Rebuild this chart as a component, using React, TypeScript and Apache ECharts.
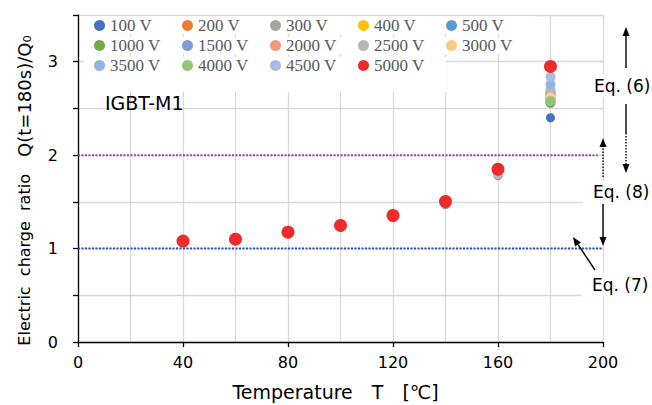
import React, { useEffect, useRef } from "react";
import * as echarts from "echarts";

// Temperatures at which Q(t=180s)/Q0 was measured
const temperatures = [40, 60, 80, 100, 120, 140, 160, 180];

// Applied voltages (legend entries)
const voltageLabels = [
  "100 V", "200 V", "300 V", "400 V", "500 V",
  "1000 V", "1500 V", "2000 V", "2500 V", "3000 V",
  "3500 V", "4000 V", "4500 V", "5000 V",
];

const voltageColors = [
  "#4472C4", "#ED7D31", "#A5A5A5", "#FFC000", "#5B9BD5",
  "#70AD47", "#7E9BD8", "#EE9A80", "#B7B7B7", "#FBCB84",
  "#8DB6E0", "#93C47D", "#A9BCE2", "#EE2A2A",
];

// Charge ratio per voltage, one value per temperature
const ratio100V = [1.07, 1.09, 1.16, 1.23, 1.33, 1.47, 1.78, 2.40];
const ratio200V = [1.08, 1.10, 1.17, 1.24, 1.34, 1.48, 1.80, 2.58];
const ratio300V = [1.07, 1.10, 1.17, 1.24, 1.34, 1.48, 1.80, 2.66];
const ratio400V = [1.08, 1.10, 1.17, 1.24, 1.34, 1.49, 1.81, 2.62];
const ratio500V = [1.08, 1.10, 1.17, 1.24, 1.35, 1.49, 1.81, 2.68];
const ratio1000V = [1.08, 1.10, 1.17, 1.25, 1.35, 1.49, 1.82, 2.56];
const ratio1500V = [1.08, 1.10, 1.17, 1.24, 1.35, 1.49, 1.82, 2.64];
const ratio2000V = [1.08, 1.10, 1.18, 1.25, 1.35, 1.49, 1.82, 2.60];
const ratio2500V = [1.08, 1.10, 1.17, 1.25, 1.35, 1.49, 1.79, 2.70];
const ratio3000V = [1.08, 1.10, 1.17, 1.25, 1.35, 1.50, 1.83, 2.62];
const ratio3500V = [1.08, 1.10, 1.17, 1.25, 1.35, 1.50, 1.83, 2.76];
const ratio4000V = [1.08, 1.10, 1.17, 1.25, 1.35, 1.50, 1.83, 2.58];
const ratio4500V = [1.08, 1.10, 1.18, 1.25, 1.35, 1.50, 1.84, 2.84];
const ratio5000V = [1.08, 1.10, 1.175, 1.247, 1.355, 1.505, 1.85, 2.95];

const ratioSets = [
  ratio100V, ratio200V, ratio300V, ratio400V, ratio500V,
  ratio1000V, ratio1500V, ratio2000V, ratio2500V, ratio3000V,
  ratio3500V, ratio4000V, ratio4500V, ratio5000V,
];

// Reference levels (Eq. (7) and Eq. (8))
const eq7Level = 1;
const eq8Level = 2;
const eq7Span = [0, 200];
const eq8Span = [0, 198];

const legendRows = [
  voltageLabels.slice(0, 5),
  voltageLabels.slice(5, 10),
  voltageLabels.slice(10, 14),
];

const SANS = "DejaVu Sans";

function arrow(x1: number, y1: number, x2: number, y2: number, dotted: boolean) {
  const dx = x2 - x1;
  const dy = y2 - y1;
  const len = Math.hypot(dx, dy);
  const ux = dx / len;
  const uy = dy / len;
  const hl = 9;
  const hw = 3.5;
  const bx = x2 - ux * hl;
  const by = y2 - uy * hl;
  return [
    {
      type: "line",
      z: 10,
      shape: { x1, y1, x2: bx, y2: by },
      style: { stroke: "#000", lineWidth: 1.4, lineDash: dotted ? [1.5, 1.5] : null },
    },
    {
      type: "polygon",
      z: 10,
      shape: { points: [[x2, y2], [bx - uy * hw, by + ux * hw], [bx + uy * hw, by - ux * hw]] },
      style: { fill: "#000" },
    },
  ];
}

function plainLine(x1: number, y1: number, x2: number, y2: number, dotted: boolean) {
  return {
    type: "line",
    z: 10,
    shape: { x1, y1, x2, y2 },
    style: { stroke: "#000", lineWidth: 1.4, lineDash: dotted ? [1.5, 1.5] : null },
  };
}

function eqLabel(text: string, x: number, y: number, padLeft: number) {
  return {
    type: "text",
    z: 9,
    x,
    y,
    style: {
      text,
      fontFamily: SANS,
      fontSize: 17,
      fill: "#000",
      verticalAlign: "middle",
      align: "left",
      backgroundColor: "#fff",
      padding: [3, 2, 3, padLeft],
    },
  };
}

export default function App() {
  const ref = useRef<HTMLDivElement>(null);

  useEffect(() => {
    if (!ref.current) return;
    const chart = echarts.init(ref.current, null, { renderer: "svg" });

    const scatterSeries = voltageLabels.map((name, i) => ({
      name,
      type: "scatter",
      data: temperatures.map((t, j) => [t, ratioSets[i][j]]),
      symbol: "circle",
      symbolSize: i === 13 ? 13 : i === 0 ? 9 : 10,
      itemStyle: { color: voltageColors[i], opacity: 1 },
      z: 3 + i,
    }));

    const legends = legendRows.map((row, r) => ({
      data: row,
      orient: "horizontal",
      left: 84,
      top: r === 0 ? 16 : 17 + r * 20,
      padding: r === 0 ? [1, 10, 0, 10] : r === 2 ? [0, 10, 18, 10] : [0, 10, 0, 10],
      backgroundColor: "#fff",
      icon: "circle",
      itemWidth: 11,
      itemHeight: 11,
      itemGap: 10,
      selectedMode: false,
      formatter: "{a|{name}}",
      textStyle: {
        rich: {
          a: {
            width: 62,
            lineHeight: 20,
            fontFamily: "Liberation Serif",
            fontSize: 17,
            color: "#595959",
          },
        },
      },
    }));

    const graphic = [
      {
        type: "text",
        z: 9,
        x: 105,
        y: 103,
        style: {
          text: "IGBT-M1",
          fontFamily: SANS,
          fontSize: 19,
          fill: "#000",
          verticalAlign: "middle",
        },
      },
      eqLabel("Eq. (6)", 592, 86, 2),
      eqLabel("Eq. (8)", 583, 192, 10),
      eqLabel("Eq. (7)", 581, 285, 11),
      ...arrow(626, 68, 626, 27, false),
      plainLine(626, 104, 626, 133, false),
      ...arrow(626, 133, 626, 173, true),
      ...arrow(603, 177, 603, 138, true),
      ...arrow(603, 204, 603, 246, false),
      ...arrow(595, 270, 573, 237, false),
    ];

    chart.setOption({
      animation: false,
      backgroundColor: "#fff",
      grid: { left: 78, right: 49, top: 15, bottom: 63, outerBoundsMode: "none", containLabel: false },
      legend: legends,
      xAxis: {
        type: "value",
        min: 0,
        max: 200,
        interval: 40,
        name: "Temperature\u3000T\u3000[\u2103]",
        nameLocation: "middle",
        nameGap: 40,
        nameTextStyle: {
          fontFamily: SANS,
          fontSize: 19,
          color: "#000",
          padding: [0, 10, 0, 0],
        },
        axisLine: { lineStyle: { color: "#000", width: 1.3 } },
        axisTick: { show: true, length: 5, lineStyle: { color: "#000", width: 1.3 } },
        axisLabel: { fontFamily: SANS, fontSize: 16, color: "#000", margin: 12 },
        splitLine: { show: true, lineStyle: { color: "#D9D9D9", width: 1.3 } },
        minorTick: { show: false, splitNumber: 2 },
        minorSplitLine: { show: true, lineStyle: { color: "#D9D9D9", width: 1.3 } },
      },
      yAxis: {
        type: "value",
        min: 0,
        max: 3.5,
        interval: 0.5,
        name: "{w|Electric  charge  ratio}{q|   Q(t=180s)/Q\u2080}",
        nameLocation: "middle",
        nameRotate: 90,
        nameGap: 45,
        nameTextStyle: {
          fontFamily: SANS,
          color: "#000",
          padding: [0, 24, 0, 0],
          rich: {
            w: { fontFamily: SANS, fontSize: 16, color: "#000" },
            q: { fontFamily: SANS, fontSize: 18, color: "#000" },
          },
        },
        axisLine: { show: true, lineStyle: { color: "#000", width: 1.3 } },
        axisTick: { show: true, length: 5, lineStyle: { color: "#000", width: 1.3 } },
        axisLabel: {
          fontFamily: SANS,
          fontSize: 16,
          color: "#000",
          margin: 20,
          formatter: (v: number) => (Math.abs(v - Math.round(v)) < 1e-9 ? String(Math.round(v)) : ""),
        },
        splitLine: { show: true, lineStyle: { color: "#D9D9D9", width: 1.3 } },
      },
      series: [
        {
          name: "Eq. (8) level",
          type: "line",
          data: eq8Span.map((t) => [t, eq8Level]),
          symbol: "none",
          lineStyle: { color: "#A349A4", width: 2, type: [2, 1.5] },
          z: 2,
        },
        {
          name: "Eq. (7) level",
          type: "line",
          data: eq7Span.map((t) => [t, eq7Level]),
          symbol: "none",
          lineStyle: { color: "#2F55B5", width: 2, type: [2, 1.5] },
          z: 2,
        },
        ...scatterSeries,
      ],
      graphic,
    });

    return () => chart.dispose();
  }, []);

  return (
    <div
      ref={ref}
      style={{ position: "fixed", left: 0, top: 0, width: 652, height: 405, background: "#fff" }}
    />
  );
}
